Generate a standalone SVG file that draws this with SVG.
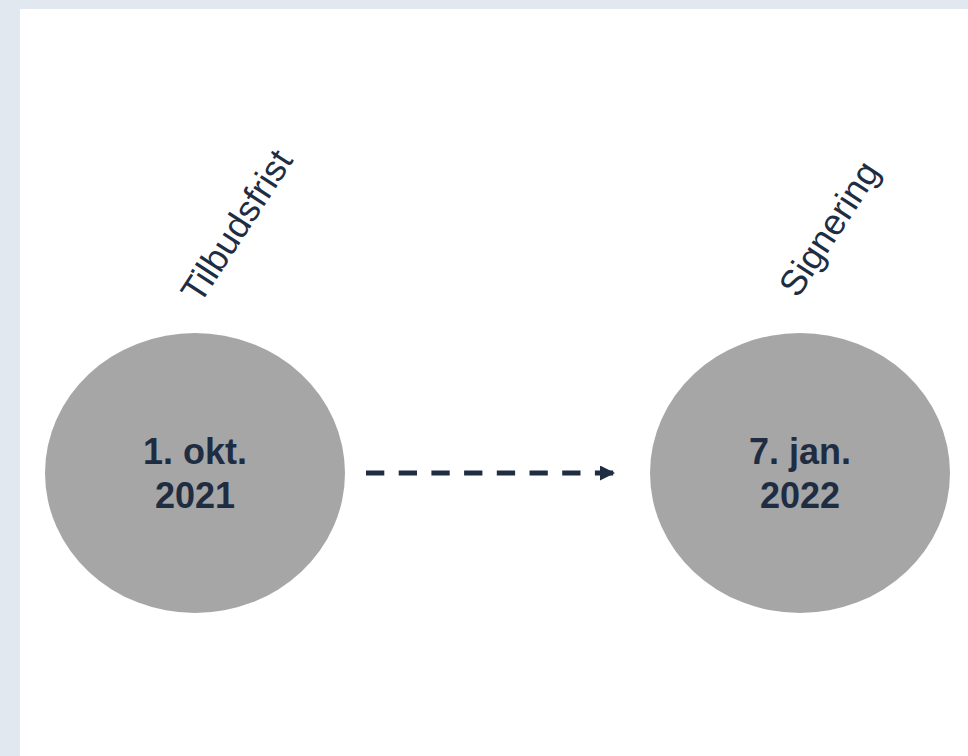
<svg xmlns="http://www.w3.org/2000/svg" width="968" height="756" viewBox="0 0 968 756">
<style>
.node{fill:#a6a6a6}
.lbl{font-family:"Liberation Sans",Arial,sans-serif;font-size:36px;font-weight:bold;fill:#1f2d42;text-anchor:middle}
.rot{font-family:"Liberation Sans",Arial,sans-serif;font-size:36px;fill:#1f2d42}
.conn{stroke:#1f2d42;stroke-width:5;stroke-dasharray:18.3 14.4;fill:none}
</style>
<defs>
<marker id="ah" markerUnits="userSpaceOnUse" markerWidth="16" markerHeight="16" refX="15" refY="7.5" orient="auto">
<path d="M0,0 L15,7.5 L0,15 Z" fill="#1f2d42"/>
</marker>
</defs>
<rect x="0" y="0" width="968" height="756" fill="#e2e8f0"/>
<rect x="20" y="9" width="948" height="747" fill="#ffffff"/>
<g id="connectors">
<line class="conn" x1="366" y1="473" x2="615" y2="473" marker-end="url(#ah)"/>
</g>
<g id="node1">
<ellipse class="node" cx="195" cy="473" rx="150" ry="140"/>
<text class="lbl" x="195" y="464">1. okt.</text>
<text class="lbl" x="195" y="508">2021</text>
<text class="rot" transform="translate(200,305) rotate(-57)">Tilbudsfrist</text>
</g>
<g id="node2">
<ellipse class="node" cx="800" cy="473" rx="150" ry="140"/>
<text class="lbl" x="800" y="464">7. jan.</text>
<text class="lbl" x="800" y="508">2022</text>
<text class="rot" transform="translate(798,299) rotate(-57)">Signering</text>
</g>
</svg>
